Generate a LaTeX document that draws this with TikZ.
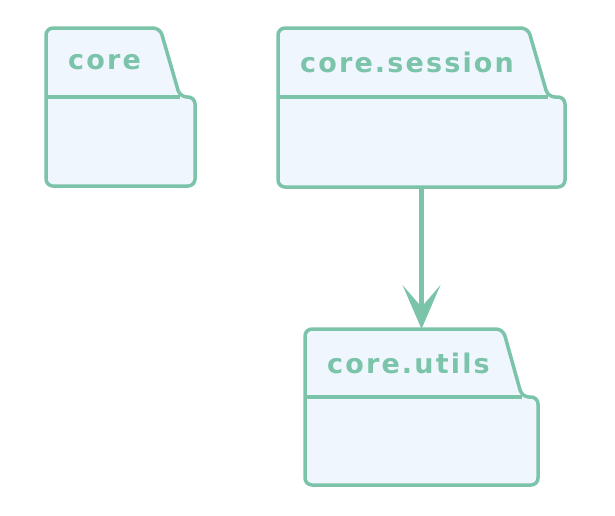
\documentclass[tikz,border=0pt]{standalone}
\usepackage{fontspec}
\setmainfont{DejaVu Sans}
\usetikzlibrary{arrows.meta}
\definecolor{pkgline}{HTML}{7BC4AA}
\definecolor{pkgfill}{HTML}{EFF6FE}
\tikzset{
  pkgoutline/.style={draw=pkgline, fill=pkgfill, line width=3.5pt, rounded corners=7pt},
  pkgsep/.style={draw=pkgline, line width=3.5pt},
  pkglabel/.style={font=\bfseries\fontsize{27}{30}\selectfont\addfontfeature{LetterSpace=8}, text=pkgline, anchor=west, inner sep=0pt},
  pkgbody/.style={inner sep=0pt, outer sep=0pt},
  deparrow/.style={draw=pkgline, line width=5pt, -{Stealth[length=44pt, width=38pt, inset=22pt, line width=0pt]}}
}
% #1 name, #2 left, #3 top, #4 tab top-right x, #5 tab bottom x, #6 body top y, #7 right, #8 bottom, #9 label
\newcommand{\umlpkg}[9]{%
  \path[pkgoutline] (#2,#8) -- (#2,#3) -- (#4,#3) -- (#5,#6) -- (#7,#6) -- (#7,#8) -- cycle;
  \draw[pkgsep] (#2,#6) -- (#5,#6);
  \node[pkglabel] (#1label) at (#2+22,{(#3+#6)/2}) {#9};
  \node[pkgbody, minimum width={(#7-#2)*1pt}, minimum height={(#8-#6)*1pt}] (#1) at ({(#2+#7)/2},{(#6+#8)/2}) {};
  \node[pkgbody, minimum width={(#5-#2)*1pt}, minimum height={(#6-#3)*1pt}] (#1tab) at ({(#2+#5)/2},{(#3+#6)/2}) {};
}
\begin{document}
\begin{tikzpicture}[x=1pt, y=-1pt]
  \useasboundingbox (0,0) rectangle (615,515);
  \fill[white] (0,0) rectangle (615,515);
  \umlpkg{core}{46}{28}{160}{180}{97}{195}{186}{core}
  \umlpkg{session}{278}{28}{528}{548}{97}{565}{187}{core.session}
  \umlpkg{utils}{305}{329}{503}{522}{397}{538}{485}{core.utils}
  \coordinate (arrowend) at (session.south |- utilstab.north);
  \draw[deparrow] (session.south) -- (arrowend);
\end{tikzpicture}
\end{document}
